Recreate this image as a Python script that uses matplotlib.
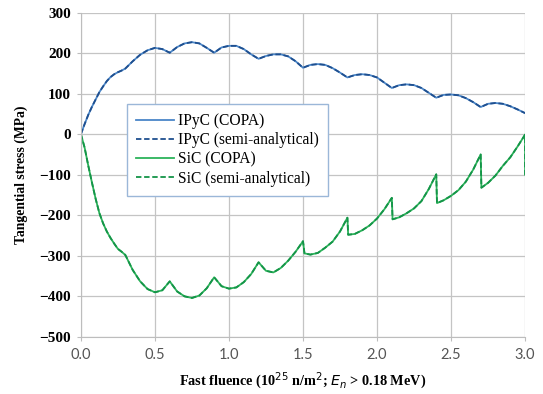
import numpy as np
import matplotlib
matplotlib.use('Agg')
import matplotlib.pyplot as plt

# IPyC tangential stress
ipyc_x = [0.0, 0.025, 0.05, 0.075, 0.1, 0.125, 0.15, 0.175, 0.2, 0.225, 0.25, 0.275,
          0.3, 0.35, 0.4, 0.45, 0.5, 0.55, 0.6,
          0.65, 0.7, 0.75, 0.8, 0.85, 0.9, 0.95, 1.0, 1.05, 1.1, 1.15, 1.2,
          1.25, 1.3, 1.35, 1.4, 1.45, 1.5, 1.55, 1.6, 1.65, 1.7, 1.75, 1.8,
          1.85, 1.9, 1.95, 2.0, 2.05, 2.1, 2.15, 2.2, 2.25, 2.3, 2.35, 2.4,
          2.45, 2.5, 2.55, 2.6, 2.65, 2.7, 2.75, 2.8, 2.85, 2.9, 2.95, 3.0]
ipyc_copa = [0, 25, 48, 68, 86, 104, 118, 131, 141, 148, 153, 157,
             162, 180, 196, 207, 213, 210, 201,
             215, 224, 227, 224, 213, 201, 214, 218, 218, 210, 197, 186,
             193, 197, 197, 192, 180, 164, 171, 173, 171, 163, 152, 140,
             146, 148, 146, 140, 127, 114, 121, 123, 121, 114, 102, 90,
             97, 98, 96, 89, 79, 67, 75, 77, 75, 69, 61, 52]
ipyc_semi = list(ipyc_copa)

# SiC tangential stress
sic_x = [0.0, 0.025, 0.05, 0.075, 0.1, 0.125, 0.15, 0.175, 0.2, 0.225, 0.25, 0.275,
         0.3, 0.35, 0.4, 0.45, 0.5, 0.55,
         0.6, 0.65, 0.7, 0.75, 0.8, 0.85, 0.9, 0.95, 1.0, 1.05, 1.1, 1.15,
         1.2, 1.25, 1.3, 1.35, 1.4, 1.45, 1.5, 1.51, 1.55, 1.6, 1.65, 1.7,
         1.75, 1.8, 1.805, 1.85, 1.9, 1.95, 2.0, 2.05, 2.1, 2.105, 2.15, 2.2,
         2.25, 2.3, 2.35, 2.4, 2.405, 2.45, 2.5, 2.55, 2.6, 2.65, 2.7, 2.705,
         2.75, 2.8, 2.85, 2.9, 2.95, 3.0, 3.0]
sic_copa = [0, -33, -78, -120, -160, -195, -220, -240, -256, -270, -283, -290,
            -298, -335, -363, -382, -390, -385,
            -363, -388, -400, -404, -398, -380, -353, -375, -381, -378, -365, -345,
            -316, -337, -341, -330, -312, -290, -264, -294, -297, -293, -280, -265,
            -240, -206, -248, -246, -237, -225, -208, -185, -157, -210, -205, -195,
            -183, -165, -135, -99, -170, -163, -152, -138, -117, -87, -50, -132,
            -120, -102, -78, -57, -30, -1, -100]
sic_semi = list(sic_copa)

labels = ['IPyC (COPA)', 'IPyC (semi-analytical)', 'SiC (COPA)', 'SiC (semi-analytical)']

fig = plt.figure(figsize=(5.43, 3.94), dpi=100)
ax = fig.add_axes([0.149, 0.145, 0.818, 0.823])

ax.plot(ipyc_x, ipyc_copa, color='#4a86c8', lw=1.3, label=labels[0])
ax.plot(ipyc_x, ipyc_semi, color='#1f4f8f', lw=1.3, ls=(0, (3, 1.5)), label=labels[1])
ax.plot(sic_x, sic_copa, color='#2cb35a', lw=1.3, label=labels[2])
ax.plot(sic_x, sic_semi, color='#149448', lw=1.3, ls=(0, (3, 1.5)), label=labels[3])

ax.set_xlim(0, 3.0)
ax.set_ylim(-500, 300)
xt = np.arange(0, 3.01, 0.5)
ax.set_xticks(xt)
ax.set_yticks(np.arange(-500, 301, 100))
ax.grid(True, color='#c4c4c4', lw=0.9)
ax.set_axisbelow(True)
for s in ['top', 'right']:
    ax.spines[s].set_visible(False)
for s in ['left', 'bottom']:
    ax.spines[s].set_color('#bdbdbd')
ax.tick_params(axis='x', length=3, color='#bdbdbd', labelsize=10.5, labelcolor='#555555', pad=5)
ax.tick_params(axis='y', length=3, color='#bdbdbd', labelsize=11, pad=4)
ax.set_xticklabels(['%.1f' % v for v in xt], fontfamily='Lato')
for t in ax.get_yticklabels():
    t.set_fontfamily('Liberation Serif')
    t.set_fontweight('bold')

ax.set_xlabel(r'Fast fluence (10$^{25}$ n/m$^2$; $\mathit{E_n}$ > 0.18 MeV)',
              fontfamily='Liberation Serif', fontweight='bold', fontsize=10.3, labelpad=6)
ax.set_ylabel('Tangential stress (MPa)', fontfamily='Liberation Serif',
              fontweight='bold', fontsize=9.8, labelpad=8)

leg = ax.legend(loc='upper left', bbox_to_anchor=(0.104, 0.718), borderaxespad=0,
                prop={'family': 'Liberation Serif', 'size': 11.2}, fancybox=False,
                framealpha=1, edgecolor='#9bb7d8', handlelength=2.4,
                labelspacing=0.2, handletextpad=0.25, borderpad=0.6)
leg.get_frame().set_linewidth(1.0)

fig.savefig('out.png', dpi=100)
